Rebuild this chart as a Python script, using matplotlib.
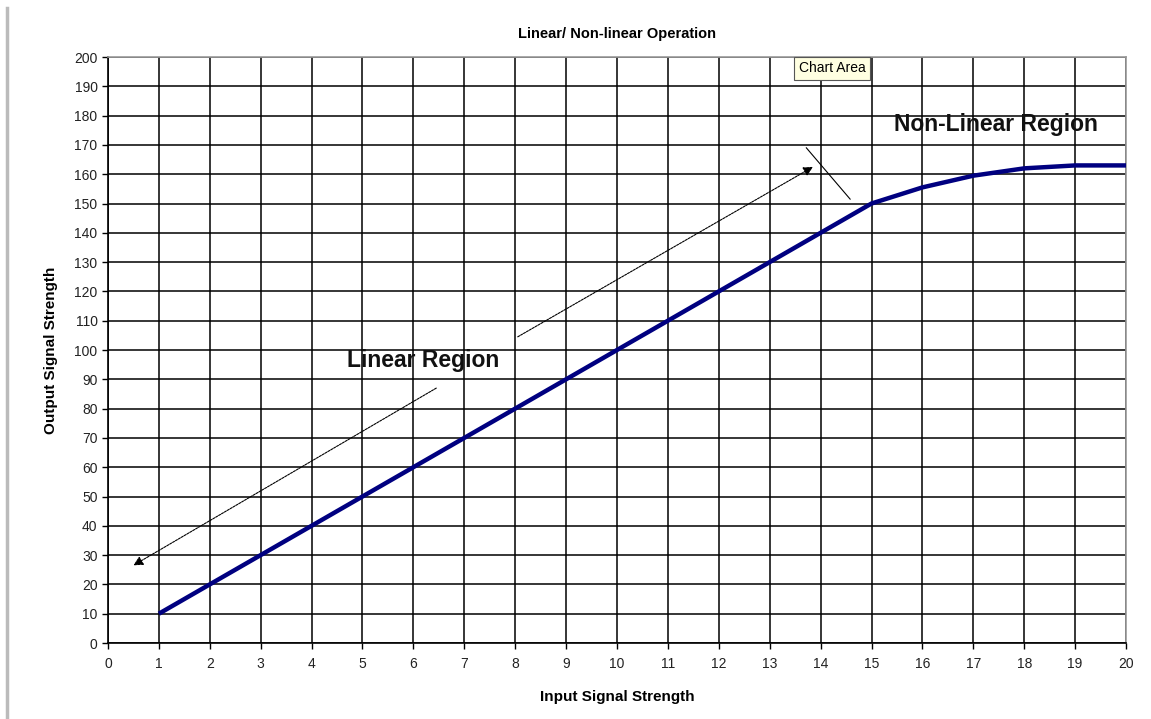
import matplotlib.pyplot as plt
from matplotlib.lines import Line2D

plt.rcParams['font.family'] = ['Liberation Sans', 'DejaVu Sans']

# data
inputStrength = [1, 2, 3, 4, 5, 6, 7, 8, 9, 10, 11, 12, 13, 14, 15, 16, 17, 18, 19, 20]
outputStrength = [10, 20, 30, 40, 50, 60, 70, 80, 90, 100, 110, 120, 130, 140, 150,
                  155.5, 159.5, 162, 163, 163]
xTicks = list(range(0, 21))
yTicks = list(range(0, 201, 10))

fig = plt.figure(figsize=(11.51, 7.19), dpi=100)
ax = fig.add_axes([0.0938, 0.1057, 0.8845, 0.815])

ax.plot(inputStrength, outputStrength, color='#000080', linewidth=3.2,
        solid_capstyle='butt', zorder=3)

ax.set_xlim(0, 20)
ax.set_ylim(0, 200)
ax.set_xticks(xTicks)
ax.set_yticks(yTicks)
ax.grid(True, color='black', linewidth=1.1)
ax.set_axisbelow(True)
ax.tick_params(axis='both', direction='out', length=4, width=1, labelsize=10,
               colors='black', labelcolor='#222222')
ax.tick_params(axis='x', pad=6)
for side in ['left', 'bottom']:
    ax.spines[side].set_color('black')
    ax.spines[side].set_linewidth(1.2)
for side in ['top', 'right']:
    ax.spines[side].set_color('#999999')
    ax.spines[side].set_linewidth(1.2)

ax.set_title('Linear/ Non-linear Operation', fontsize=10.5, fontweight='bold', pad=14)
ax.set_xlabel('Input Signal Strength', fontsize=11, fontweight='bold', labelpad=14)
ax.set_ylabel('Output Signal Strength', fontsize=11, fontweight='bold', labelpad=12)

# linear region arrows
arrowStyle = dict(arrowstyle='-|>', color='black', lw=0.8, linestyle=(0, (2, 1)),
                  mutation_scale=14, shrinkA=0, shrinkB=0)
ax.annotate('', xy=(0.5, 26.5), xytext=(6.45, 87), arrowprops=arrowStyle)
ax.annotate('', xy=(13.85, 162.5), xytext=(8.05, 104.5), arrowprops=arrowStyle)
ax.plot([13.72, 14.58], [169, 151.5], color='black', linewidth=0.8, zorder=4)

ax.text(6.2, 96.5, 'Linear Region', fontsize=16.5, fontweight='bold',
        ha='center', va='center', color='#111111')
ax.text(17.45, 177, 'Non-Linear Region', fontsize=16.5, fontweight='bold',
        ha='center', va='center', color='#111111')

# tooltip
fig.text(832 / 1151, 1 - 68.5 / 719, 'Chart Area', fontsize=10, ha='center', va='center',
         bbox=dict(boxstyle='square,pad=0.3', facecolor='#FFFFE1', edgecolor='#555555',
                   linewidth=0.8))

# left window border
fig.add_artist(Line2D([7 / 1151, 7 / 1151], [0, 1 - 8 / 719], color='#BBBBBB',
                      linewidth=2.5, transform=fig.transFigure))

fig.savefig('out.png', dpi=100)
